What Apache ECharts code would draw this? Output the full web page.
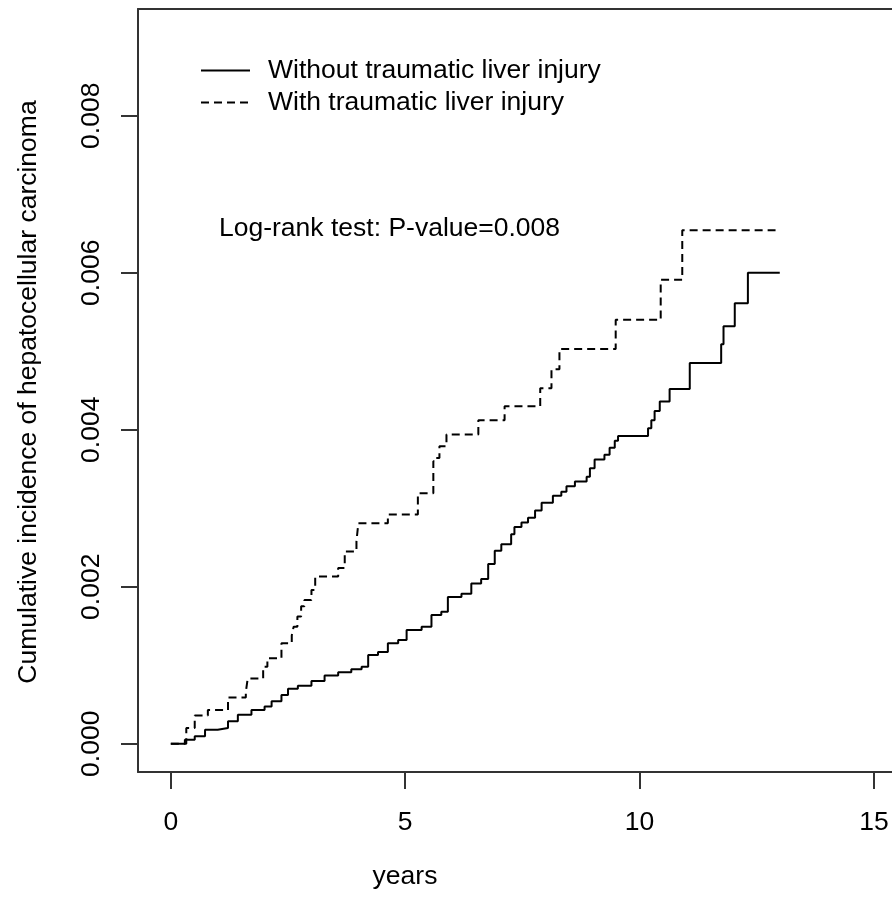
<!DOCTYPE html>
<html>
<head>
<meta charset="utf-8">
<title>Cumulative incidence of hepatocellular carcinoma</title>
<script src="https://cdn.jsdelivr.net/npm/echarts@6/dist/echarts.min.js"></script>
<style>
  html, body { margin: 0; padding: 0; background: #fff; }
  #chart { width: 892px; height: 899px; }
</style>
</head>
<body>
<div id="chart"></div>
<script>
// step times (years) and cumulative incidence after each step
const withoutYears = [0, 0.30, 0.51, 0.73, 1.00, 1.22, 1.43, 1.72, 2.00, 2.15, 2.36, 2.50, 2.71, 3.00, 3.28,
  3.57, 3.85, 4.07, 4.21, 4.42, 4.63, 4.85, 5.03, 5.35, 5.56, 5.77, 5.91, 6.20, 6.41, 6.62, 6.77, 6.91, 7.05,
  7.26, 7.33, 7.48, 7.62, 7.77, 7.91, 8.15, 8.33, 8.44, 8.62, 8.87, 8.94, 9.04, 9.25, 9.36, 9.47, 9.54, 10.18,
  10.25, 10.32, 10.43, 10.64, 11.07, 11.74, 11.79, 12.03, 12.31, 12.99];
const withoutIncidence = [0, 0.00005, 0.000094, 0.000178, 0.0002, 0.000285, 0.00037, 0.00043, 0.000475, 0.00054,
  0.00062, 0.0007, 0.00074, 0.0008, 0.00087, 0.00091, 0.00095, 0.00098, 0.00113, 0.00117, 0.00128, 0.00132,
  0.00145, 0.00149, 0.00164, 0.00168, 0.00187, 0.00191, 0.00204, 0.0021, 0.00229, 0.00246, 0.00254, 0.00267,
  0.00276, 0.00282, 0.00288, 0.00297, 0.00307, 0.00316, 0.00321, 0.00328, 0.00334, 0.0034, 0.00351, 0.00362,
  0.00368, 0.00377, 0.00386, 0.00392, 0.00402, 0.00412, 0.00424, 0.00436, 0.00452, 0.00485, 0.00509, 0.00532,
  0.00561, 0.006, 0.006];

const withYears = [0, 0.33, 0.51, 0.79, 1.22, 1.60, 1.64, 1.97, 2.06, 2.36, 2.58, 2.62, 2.70, 2.78, 2.85, 3.00,
  3.08, 3.57, 3.71, 3.96, 4.00, 4.63, 5.27, 5.60, 5.66, 5.73, 5.88, 6.56, 7.12, 7.88, 8.12, 8.29, 9.49, 10.45,
  10.91, 12.90];
const withIncidence = [0, 0.0002, 0.00036, 0.00043, 0.00059, 0.00066, 0.00083, 0.00098, 0.00109, 0.00128, 0.00138,
  0.00149, 0.00162, 0.00175, 0.00183, 0.00196, 0.00213, 0.00224, 0.00245, 0.00258, 0.00281, 0.00292, 0.00319,
  0.0036, 0.00364, 0.00379, 0.00394, 0.00412, 0.0043, 0.00453, 0.00477, 0.00503, 0.0054, 0.00591, 0.00654,
  0.00654];

const xTicks = [0, 5, 10, 15];
const yTicks = [0, 0.002, 0.004, 0.006, 0.008];
const seriesNames = ['Without traumatic liver injury', 'With traumatic liver injury'];
const pValueText = 'Log-rank test: P-value=0.008';
const xTitle = 'years';
const yTitle = 'Cumulative incidence of hepatocellular carcinoma';

const FONT = 'Liberation Sans, Arial, Helvetica, sans-serif';
const FS = 26.5;
const AXIS_COLOR = '#333';

const chart = echarts.init(document.getElementById('chart'));

const toPairs = (xs, ys) => xs.map((t, i) => [t, ys[i]]);

// the plot box runs off the right edge, so only left, bottom and top sides are seen
const X_MIN = -0.7;
const X_MAX = 15.384;

const option = {
  animation: false,
  backgroundColor: '#fff',
  textStyle: { fontFamily: FONT },
  grid: {
    left: 138,
    top: 9,
    right: 0,
    height: 763
  },
  legend: {
    orient: 'vertical',
    left: 195,
    top: 52,
    itemWidth: 49,
    itemHeight: 14,
    itemGap: 5,
    itemStyle: { opacity: 0 },
    textStyle: { fontFamily: FONT, fontSize: FS, color: '#000', padding: [0, 0, 0, 13], lineHeight: 26 },
    data: seriesNames
  },
  xAxis: [
    {
      type: 'value',
      position: 'bottom',
      min: X_MIN,
      max: X_MAX,
      axisLine: { show: true, onZero: false, lineStyle: { color: AXIS_COLOR, width: 2 } },
      splitLine: { show: false },
      axisTick: { show: true, length: 17, customValues: xTicks, lineStyle: { color: AXIS_COLOR, width: 2 } },
      axisLabel: { customValues: xTicks, margin: 37, fontFamily: FONT, fontSize: FS, color: '#000' }
    },
    {
      type: 'value',
      position: 'top',
      min: X_MIN,
      max: X_MAX,
      axisLine: { show: true, onZero: false, lineStyle: { color: AXIS_COLOR, width: 2 } },
      splitLine: { show: false },
      axisTick: { show: false },
      axisLabel: { show: false }
    }
  ],
  yAxis: {
    type: 'value',
    position: 'left',
    min: -0.00036,
    max: 0.00936,
    axisLine: { show: true, onZero: false, lineStyle: { color: AXIS_COLOR, width: 2 } },
    splitLine: { show: false },
    axisTick: { show: true, length: 17, customValues: yTicks, lineStyle: { color: AXIS_COLOR, width: 2 } },
    axisLabel: {
      customValues: yTicks,
      rotate: 90,
      margin: 33,
      fontFamily: FONT,
      fontSize: FS,
      color: '#000',
      formatter: v => v.toFixed(3)
    }
  },
  graphic: [
    {
      type: 'text',
      x: 219,
      y: 229,
      style: { text: pValueText, font: FS + 'px ' + FONT, fill: '#000', align: 'left', verticalAlign: 'middle' }
    },
    {
      type: 'text',
      x: 405,
      y: 877,
      style: { text: xTitle, font: FS + 'px ' + FONT, fill: '#000', align: 'center', verticalAlign: 'middle' }
    },
    {
      type: 'text',
      x: 29,
      y: 392,
      rotation: Math.PI / 2,
      style: { text: yTitle, font: FS + 'px ' + FONT, fill: '#000', align: 'center', verticalAlign: 'middle' }
    }
  ],
  series: [
    {
      name: seriesNames[0],
      type: 'line',
      step: 'end',
      symbol: 'none',
      lineStyle: { color: '#000', width: 2, type: 'solid' },
      itemStyle: { color: '#000' },
      data: toPairs(withoutYears, withoutIncidence)
    },
    {
      name: seriesNames[1],
      type: 'line',
      step: 'end',
      symbol: 'none',
      lineStyle: { color: '#000', width: 2, type: [8, 5] },
      itemStyle: { color: '#000' },
      data: toPairs(withYears, withIncidence)
    }
  ]
};

chart.setOption(option);
</script>
</body>
</html>
